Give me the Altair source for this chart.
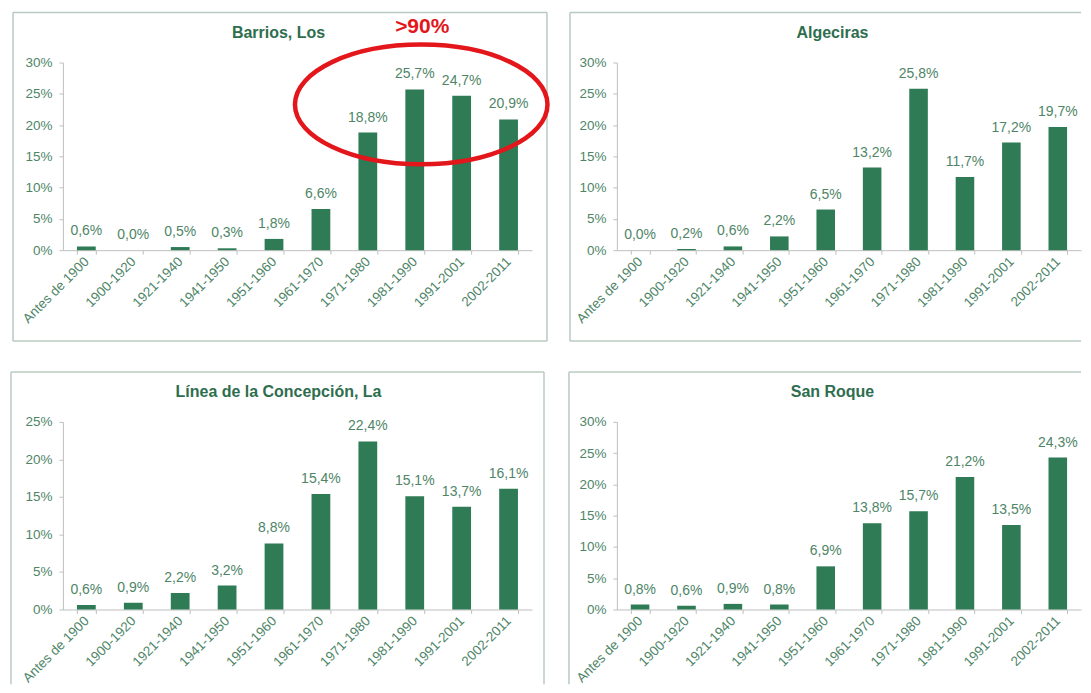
import altair as alt
import pandas as pd

# ---- data ----
periodos = ["Antes de 1900", "1900-1920", "1921-1940", "1941-1950", "1951-1960",
            "1961-1970", "1971-1980", "1981-1990", "1991-2001", "2002-2011"]
barrios = [0.6, 0.0, 0.5, 0.3, 1.8, 6.6, 18.8, 25.7, 24.7, 20.9]
algeciras = [0.0, 0.2, 0.6, 2.2, 6.5, 13.2, 25.8, 11.7, 17.2, 19.7]
linea = [0.6, 0.9, 2.2, 3.2, 8.8, 15.4, 22.4, 15.1, 13.7, 16.1]
san_roque = [0.8, 0.6, 0.9, 0.8, 6.9, 13.8, 15.7, 21.2, 13.5, 24.3]
titulos = ["Barrios, Los", "Algeciras", "Línea de la Concepción, La", "San Roque"]
maximos = [30, 30, 25, 30]
anotacion = ">90%"

# ---- styling ----
FONT = "Liberation Sans"
VERDE = "#2E7B55"
TEXTO = "#4E8567"
TITULO = "#2E6E4E"
EJE = "#BFBFBF"
CAJA = "#B8CBC1"
ROJO = "#E3161B"
W_IZQ, W_DER, H = 470, 465, 188


def etiqueta(v):
    return f"{v:.1f}".replace(".", ",") + "%"


def one_row(**kw):
    return alt.Data(values=[kw if kw else {"k": 1}])


def regla(x1, x2, y1, y2):
    return alt.Chart(one_row()).mark_rule(color=CAJA, strokeWidth=1.5).encode(
        x=alt.value(x1), x2=alt.value(x2), y=alt.value(y1), y2=alt.value(y2)
    )


def panel(valores, titulo, ymax, ancho, caja, lados, extra=None):
    df = pd.DataFrame({
        "periodo": periodos,
        "valor": valores,
        "etiqueta": [etiqueta(v) for v in valores],
    })
    base = alt.Chart(df)
    x = alt.X(
        "periodo:N", sort=periodos, title=None,
        scale=alt.Scale(paddingInner=0.6, paddingOuter=0.3),
        axis=alt.Axis(
            labelAngle=-45, labelAlign="right", labelBaseline="middle",
            labelPadding=5, tickSize=4, tickBand="extent",
            domainColor=EJE, tickColor=EJE, labelColor=TEXTO,
            labelFont=FONT, labelFontSize=13.5, labelOverlap=False,
        ),
    )
    y = alt.Y(
        "valor:Q", title=None,
        scale=alt.Scale(domain=[0, ymax], nice=False, zero=True),
        axis=alt.Axis(
            values=list(range(0, ymax + 1, 5)), labelExpr="datum.value + '%'",
            grid=False, tickSize=4, labelPadding=7, labelOverlap=False,
            domainColor=EJE, tickColor=EJE, labelColor=TEXTO,
            labelFont=FONT, labelFontSize=13.5,
        ),
    )
    barras = base.mark_bar(color=VERDE).encode(x=x, y=y)
    textos = base.mark_text(
        baseline="bottom", dy=-8, font=FONT, fontSize=14, color=TEXTO
    ).encode(x=x, y=y, text="etiqueta:N")
    tit = alt.Chart(one_row(t=titulo)).mark_text(
        font=FONT, fontSize=16, fontWeight="bold", color=TITULO,
        align="center", baseline="middle",
    ).encode(x=alt.value(216), y=alt.value(-30), text="t:N")
    capas = [barras, textos, tit]
    l, r, t, b = caja
    for s in lados:
        if s == "top":
            capas.append(regla(l, r, t, t))
        elif s == "bottom":
            capas.append(regla(l, r, b, b))
        elif s == "left":
            capas.append(regla(l, l, t, b))
        elif s == "right":
            capas.append(regla(r, r, t, b))
    if extra:
        capas.extend(extra)
    return alt.layer(*capas).properties(width=ancho, height=H)


# red annotation on the first panel (ellipse drawn as a cubic-bezier symbol)
ELIPSE = ("M -1 0 C -1 -0.262 -0.552 -0.474 0 -0.474 "
          "C 0.552 -0.474 1 -0.262 1 0 "
          "C 1 0.262 0.552 0.474 0 0.474 "
          "C -0.552 0.474 -1 0.262 -1 0 Z")
elipse = alt.Chart(one_row()).mark_point(
    shape=ELIPSE, size=253 * 253, filled=False, color=ROJO,
    strokeWidth=4.5, opacity=1,
).encode(x=alt.value(359), y=alt.value(42))
texto_rojo = alt.Chart(one_row(t=anotacion)).mark_text(
    font=FONT, fontSize=21, fontWeight="bold", color=ROJO,
    align="center", baseline="middle",
).encode(x=alt.value(360), y=alt.value(-36), text="t:N")

p1 = panel(barrios, titulos[0], maximos[0], W_IZQ,
           (-50, 485, -50, 279), ["top", "bottom", "left", "right"],
           extra=[elipse, texto_rojo])
p2 = panel(algeciras, titulos[1], maximos[1], W_DER,
           (-47, 465, -50, 279), ["top", "bottom", "left"])
p3 = panel(linea, titulos[2], maximos[2], W_IZQ,
           (-52, 482, -50, 263), ["top", "left", "right"])
p4 = panel(san_roque, titulos[3], maximos[3], W_DER,
           (-48, 465, -50, 263), ["top", "left"])

chart = alt.concat(
    p1, p2, p3, p4, columns=2,
    spacing={"row": 172, "column": 85}, bounds="flush",
).properties(
    padding={"left": 1, "top": 2, "right": 0, "bottom": 0},
).configure_view(stroke="transparent")

chart.save("out.html", embed_options={"renderer": "svg", "actions": False})
